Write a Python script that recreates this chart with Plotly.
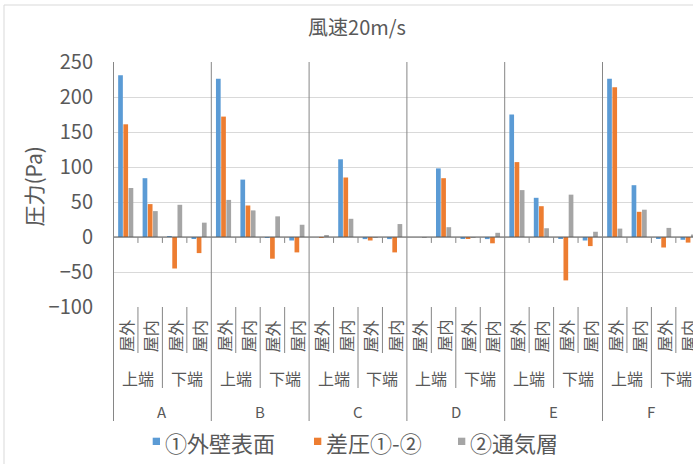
import plotly.graph_objects as go

# Category hierarchy: group -> end (上端/下端) -> side (屋外/屋内)
groups = ["A", "B", "C", "D", "E", "F"]
ends = ["上端", "下端"]
sides = ["屋外", "屋内"]

# Pressure values (Pa) per category, ordered A上端屋外, A上端屋内, A下端屋外, A下端屋内, B...
outer_wall = [231, 84, 1, -2, 226, 82, -1, -5,
              0, 111, -3, -3, 0, 98, -2.5, -3,
              175, 56, -2, -5, 226, 74, -1.5, -4]
pressure_diff = [161, 47, -45, -23, 172, 45, -31, -22,
                 -1, 85, -5, -22, 0, 84, -1.5, -9,
                 107, 44, -62, -13, 214, 36, -15, -8]
vent_layer = [70, 37, 46, 20.5, 53, 38, 29.5, 17.5,
              1.5, 26, -1, 18.5, -1, 14, -1, 6,
              67, 12.5, 60.5, 7.5, 12, 39, 13, 3.5]

series_names = ["①外壁表面", "差圧①-②", "②通気層"]
series_values = [outer_wall, pressure_diff, vent_layer]
colors = ["#5B9BD5", "#ED7D31", "#A5A5A5"]

y_ticks = [-100, -50, 0, 50, 100, 150, 200, 250]

TEXT = "#595959"
GRID = "#D9D9D9"
SEP = "#868686"
FONT = "Noto Sans CJK JP"

# Figure geometry (pixels)
W, H = 693, 464
L, T, B = 113, 62, 157
plot_w = W - L
plot_h = H - T - B
unit = 24.45                      # pixels per category
x_lo = -0.5 - 0.5 / unit
x_hi = x_lo + plot_w / unit


def px_x(p):
    return (p - L) / plot_w


def px_y(p):
    return (T + plot_h - p) / plot_h


n_side = len(sides)
n_end = len(ends) * n_side
n_cat = len(groups) * n_end
xs = list(range(n_cat))

fig = go.Figure()
for name, vals, col in zip(series_names, series_values, colors):
    fig.add_trace(go.Bar(x=xs, y=vals, name=name, marker_color=col,
                         marker_line_width=0, showlegend=False))

shapes = []
# chart area border
shapes.append(dict(type="rect", xref="paper", yref="paper",
                   x0=px_x(4), x1=px_x(W + 20), y0=px_y(5), y1=px_y(H + 20),
                   line=dict(color=GRID, width=1), layer="below"))
# category axis line at zero
shapes.append(dict(type="line", xref="x", yref="y", x0=x_lo, x1=x_hi, y0=0, y1=0,
                   line=dict(color=TEXT, width=1), layer="above"))
# separators between categories
for k in range(n_cat + 1):
    xb = k - 0.5
    if k % n_end == 0:
        shapes.append(dict(type="line", xref="x", yref="paper", x0=xb, x1=xb,
                           y0=1, y1=px_y(421), line=dict(color=SEP, width=1)))
    else:
        bottom = 388 if k % n_side == 0 else 353
        shapes.append(dict(type="line", xref="x", yref="paper", x0=xb, x1=xb,
                           y0=0, y1=px_y(bottom), line=dict(color=SEP, width=1)))
        shapes.append(dict(type="line", xref="x", yref="y", x0=xb, x1=xb,
                           y0=0, y1=-8.5, line=dict(color=SEP, width=1)))


def label(x, y, text, size, xref="paper", angle=0, xanchor="center"):
    return dict(x=x, y=y, xref=xref, yref="paper", text=text, textangle=angle,
                showarrow=False, xanchor=xanchor, yanchor="middle",
                font=dict(size=size, color=TEXT, family=FONT))


annotations = []
# level 1: side labels (rotated)
for i in xs:
    annotations.append(label(i, px_y(336), sides[i % n_side], 16, xref="x", angle=-90))
# level 2 and 3: end labels and group labels
for g in range(len(groups)):
    for e, lab in enumerate(ends):
        annotations.append(label(g * n_end + e * n_side + (n_side - 1) / 2,
                                 px_y(378), lab, 16, xref="x"))
    annotations.append(label(g * n_end + (n_end - 1) / 2, px_y(411.7),
                             groups[g], 15, xref="x"))
# y-axis title
annotations.append(label(px_x(32), px_y(186.5), "圧力(Pa)", 21, angle=-90))

# legend
legend_sq = [152.7, 314, 458]
for sx, name, col in zip(legend_sq, series_names, colors):
    shapes.append(dict(type="rect", xref="paper", yref="paper",
                       x0=px_x(sx), x1=px_x(sx + 7.3), y0=px_y(437.7), y1=px_y(445),
                       fillcolor=col, line=dict(width=0)))
    annotations.append(label(px_x(sx + 10), px_y(441.5), name, 22, xanchor="left"))

fig.update_layout(
    width=W, height=H,
    margin=dict(l=L, r=0, t=T, b=B, pad=0),
    paper_bgcolor="white", plot_bgcolor="white",
    font=dict(family=FONT, color=TEXT),
    barmode="group", bargap=0.36, bargroupgap=0.1,
    title=dict(text="風速20m/s", x=357 / W, y=1 - 28 / H, xanchor="center",
               yanchor="middle", xref="container", yref="container",
               font=dict(size=20, color=TEXT, family=FONT)),
    xaxis=dict(range=[x_lo, x_hi], showticklabels=False, showgrid=False,
               zeroline=False, showline=False, ticks=""),
    yaxis=dict(range=[-100, 250], tickvals=y_ticks, showgrid=True, gridcolor=GRID,
               gridwidth=1, zeroline=False, showline=False, ticks="",
               ticklabelstandoff=19,
               tickfont=dict(size=20, color=TEXT, family=FONT)),
    shapes=shapes, annotations=annotations,
)

fig.write_html("out.html")
